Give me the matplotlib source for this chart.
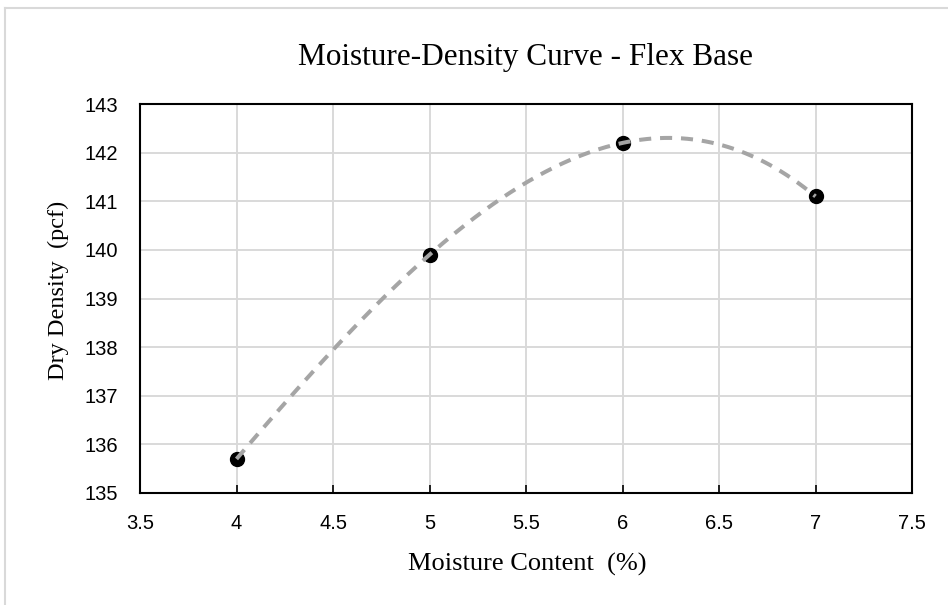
import numpy as np
import matplotlib.pyplot as plt
from matplotlib.lines import Line2D

# data
moisture = [4, 5, 6, 7]
density = [135.7, 139.9, 142.2, 141.1]
x_ticks = [3.5, 4, 4.5, 5, 5.5, 6, 6.5, 7, 7.5]
y_ticks = [135, 136, 137, 138, 139, 140, 141, 142, 143]

fig = plt.figure(figsize=(9.48, 6.05), dpi=100)
ax = fig.add_axes([140 / 948, 1 - 493 / 605, (912 - 140) / 948, (493 - 104) / 605])

# outer chart frame (cut off at right and bottom)
fig.add_artist(Line2D([5 / 948, 5 / 948], [0, 1 - 8 / 605], color='#d9d9d9', lw=1.5, transform=fig.transFigure))
fig.add_artist(Line2D([5 / 948, 1], [1 - 8 / 605, 1 - 8 / 605], color='#d9d9d9', lw=1.5, transform=fig.transFigure))

# polynomial trendline (order 3) through the data
coef = np.polyfit(moisture, density, 3)
xs = np.linspace(min(moisture), max(moisture), 200)
ax.plot(xs, np.polyval(coef, xs), color='#a5a5a5', lw=2.9, dashes=(3.0, 2.2), zorder=4)
ax.plot(moisture, density, 'o', color='black', ms=10, zorder=3)

ax.set_xlim(3.5, 7.5)
ax.set_ylim(135, 143)
ax.set_xticks(x_ticks)
ax.set_yticks(y_ticks)
ax.set_xticklabels([f'{v:g}' for v in x_ticks])
ax.grid(True, color='#d9d9d9', lw=1.4)
ax.set_axisbelow(True)
for s in ax.spines.values():
    s.set_color('black')
    s.set_linewidth(1.5)
ax.tick_params(axis='x', direction='in', length=6, width=1.2, pad=15, labelsize=14.5)
ax.tick_params(axis='y', length=0, pad=16, labelsize=14.5)
for lab in ax.get_xticklabels() + ax.get_yticklabels():
    lab.set_family('Liberation Sans')

serif = 'Liberation Serif'
fig.text(0.5 * (140 + 912) / 948, 1 - 58 / 605, 'Moisture-Density Curve - Flex Base',
         ha='center', va='center', family=serif, fontsize=22.5)
fig.text(527 / 948, 1 - 564 / 605, 'Moisture Content  (%)',
         ha='center', va='center', family=serif, fontsize=19)
fig.text(58 / 948, 1 - 290 / 605, 'Dry Density  (pcf)', rotation=90,
         ha='center', va='center', family=serif, fontsize=17.5)

fig.savefig('out.png', dpi=100)
